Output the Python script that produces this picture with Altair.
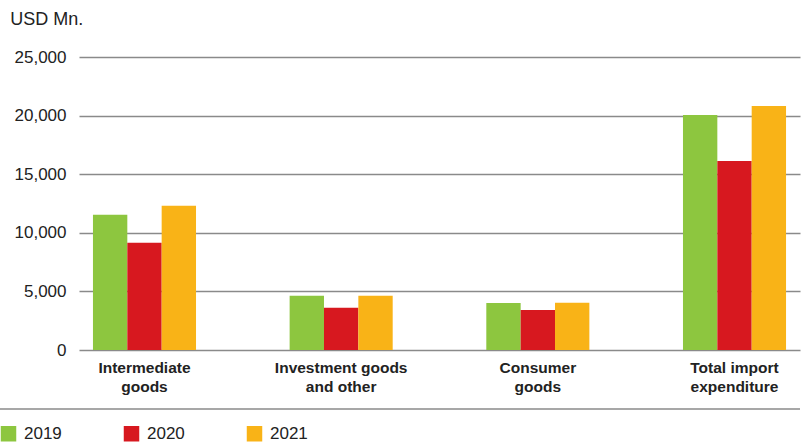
import altair as alt
import pandas as pd

categories = ["Intermediate goods", "Investment goods and other", "Consumer goods", "Total import expenditure"]
label_lines = {
    "Intermediate goods": ["Intermediate", "goods"],
    "Investment goods and other": ["Investment goods", "and other"],
    "Consumer goods": ["Consumer", "goods"],
    "Total import expenditure": ["Total import", "expenditure"],
}
years = ["2019", "2020", "2021"]
v2019 = [11550, 4620, 4020, 20050]
v2020 = [9150, 3600, 3420, 16130]
v2021 = [12300, 4630, 4030, 20820]
colors = ["#8dc63f", "#d7181f", "#f9b317"]

rows = []
for i, c in enumerate(categories):
    for y, vals in zip(years, [v2019, v2020, v2021]):
        rows.append({"category": c, "year": y, "value": vals[i]})
df = pd.DataFrame(rows)

expr = " : ".join(
    f"datum.value == '{k}' ? ['{v[0]}', '{v[1]}']" for k, v in label_lines.items()
) + " : datum.value"

bars = alt.Chart(df).mark_bar().encode(
    x=alt.X("category:N", sort=categories, title=None,
            scale=alt.Scale(paddingInner=0.476, paddingOuter=0.071),
            axis=alt.Axis(labelAngle=0, labelExpr=expr, labelFont="Liberation Sans",
                          labelFontWeight="bold", labelFontSize=15.5, labelColor="#222",
                          labelLineHeight=19, labelPadding=10, ticks=False, domain=False,
                          labelLimit=300)),
    xOffset=alt.XOffset("year:N", sort=years,
                        scale=alt.Scale(paddingInner=0, paddingOuter=0)),
    y=alt.Y("value:Q", title=None,
            scale=alt.Scale(domain=[0, 25000], nice=False),
            axis=alt.Axis(values=[0, 5000, 10000, 15000, 20000, 25000], format=",.0f",
                          labelFont="Liberation Sans", labelFontSize=17, labelColor="#222",
                          labelPadding=13, ticks=False, domain=False,
                          grid=True, gridColor="#8a8a8a", gridWidth=1.5)),
    color=alt.Color("year:N", sort=years,
                    scale=alt.Scale(domain=years, range=colors),
                    legend=alt.Legend(title=None, orient="none", legendX=-79, legendY=368,
                                      direction="horizontal", columns=3,
                                      symbolType="square", symbolSize=240,
                                      symbolStrokeWidth=0, symbolOffset=0,
                                      labelFont="Liberation Sans", labelFontSize=17,
                                      labelColor="#222", labelOffset=7,
                                      columnPadding=61)),
)

sep = alt.Chart(pd.DataFrame({"a": [0]})).mark_rule(color="#8a8a8a", strokeWidth=1.5).encode(
    x=alt.value(-79), x2=alt.value(721), y=alt.value(352)
)

chart = alt.layer(bars, sep).properties(
    width=721, height=293,
    autosize=alt.AutoSizeParams(type="none"),
    padding={"left": 79, "top": 57, "right": 8, "bottom": 96},
    title=alt.TitleParams("USD Mn.", anchor="start", frame="bounds", font="Liberation Sans",
                          fontSize=18, fontWeight="normal", color="#222", offset=19, dx=11),
).configure_view(stroke=None).configure_axisY(gridDash=[])

chart.save("out.html", embed_options={"renderer": "svg", "actions": False})
